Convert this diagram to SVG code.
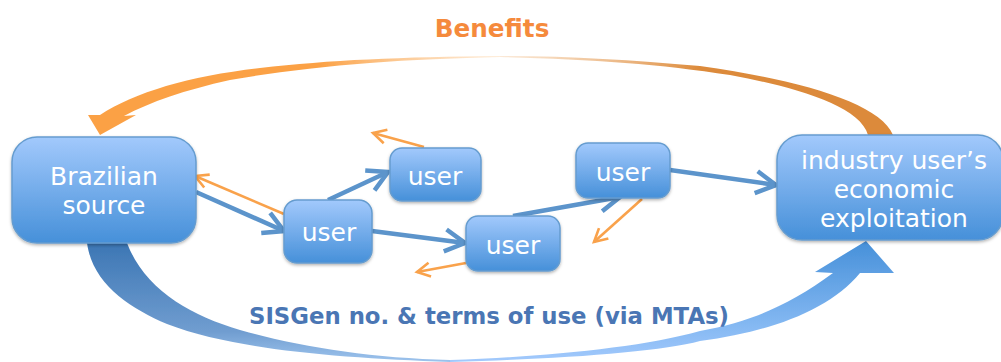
<svg xmlns="http://www.w3.org/2000/svg" width="1001" height="362" viewBox="0 0 1001 362">
<style>
.box{fill:url(#bx);stroke:#659ccf;stroke-width:1.5;filter:url(#sh)}
.lbl{font-family:"DejaVu Sans",sans-serif;font-size:25px;fill:#fff;text-anchor:middle}
.title{font-family:"DejaVu Sans",sans-serif;font-weight:700;text-anchor:middle}
.b{fill:none;stroke:#5b94cb;stroke-width:4.5;marker-end:url(#ab)}
.o{fill:none;stroke:#f9a24c;stroke-width:2.6;marker-end:url(#ao)}
</style>
<defs>
<linearGradient id="bx" x1="0" y1="0" x2="0" y2="1"><stop offset="0" stop-color="#a2c9fc"/><stop offset="1" stop-color="#4690d9"/></linearGradient>
<linearGradient id="tr" gradientUnits="userSpaceOnUse" x1="500" y1="0" x2="700" y2="0"><stop offset="0" stop-color="#f4c79a" stop-opacity=".4"/><stop offset="1" stop-color="#dc8a3a"/></linearGradient>
<linearGradient id="tl" gradientUnits="userSpaceOnUse" x1="500" y1="0" x2="320" y2="0"><stop offset="0" stop-color="#fcd0a0" stop-opacity=".4"/><stop offset="1" stop-color="#fba145"/></linearGradient>
<linearGradient id="bl" gradientUnits="userSpaceOnUse" x1="0" y1="243" x2="0" y2="361"><stop offset="0" stop-color="#3c76b4"/><stop offset=".75" stop-color="#709dd0"/><stop offset="1" stop-color="#9cc2ec"/></linearGradient>
<linearGradient id="br" gradientUnits="userSpaceOnUse" x1="0" y1="241" x2="0" y2="361"><stop offset="0" stop-color="#4690d9"/><stop offset=".7" stop-color="#84b8f2"/><stop offset="1" stop-color="#a2c9fc"/></linearGradient>
<filter id="sh" x="-10%" y="-10%" width="120%" height="125%"><feDropShadow dx="0" dy="1.5" stdDeviation="1.5" flood-color="#000" flood-opacity=".3"/></filter>
<filter id="sf" x="-5%" y="-5%" width="110%" height="110%"><feGaussianBlur stdDeviation=".6"/></filter>
<marker id="ab" markerUnits="userSpaceOnUse" markerWidth="30" markerHeight="30" refX="24" refY="15" orient="auto"><path d="M4 4 L24 15 L4 26" fill="none" stroke="#5b94cb" stroke-width="4.5"/></marker>
<marker id="ao" markerUnits="userSpaceOnUse" markerWidth="24" markerHeight="24" refX="20" refY="12" orient="auto"><path d="M7 5 L20 12 L7 19" fill="none" stroke="#f9a24c" stroke-width="2.6"/></marker>
</defs>
<g id="connectors" filter="url(#sf)">
<path d="M893 135C880 103 800 80 700 66C630 60 570 56 500 56L500 57C590 59 660 64 730 75C790 86 860 105 868 135Z" fill="url(#tr)"/>
<path d="M500 56C400 57 330 60 260 68C190 76 135 92 100 115L88 115L100 135L136 115L124 116C150 102 185 90 230 80C310 66 400 59 500 57Z" fill="url(#tl)"/>
<path d="M87 243C93 285 130 308 167 324C235 350 340 358 450 362L450 360C370 358 300 347 240 330C190 315 145 290 127 243Z" fill="url(#bl)"/>
<path d="M450 362C560 359 660 352 700 341C770 332 830 310 860 273L894 273L866 241L815 272L833 273C790 305 750 322 700 331C640 348 540 357 450 360Z" fill="url(#br)"/>
<path class="b" d="M196 192L284 231"/>
<path class="o" d="M284 214L195 176"/>
<path class="b" d="M328 200L388 172"/>
<path class="b" d="M372 231L465 243"/>
<path class="o" d="M466 263L417 272"/>
<path class="o" d="M424 147L373 133"/>
<path class="b" d="M513 216L620 197"/>
<path class="o" d="M642 199L594 242"/>
<path class="b" d="M670 170L776 185"/>
</g>
<g id="source"><rect class="box" x="12" y="137" width="184" height="106" rx="25"/><text class="lbl" x="104" y="185">Brazilian</text><text class="lbl" x="104" y="214">source</text></g>
<g id="user1"><rect class="box" x="284" y="200" width="88" height="63" rx="13"/><text class="lbl" x="329" y="241">user</text></g>
<g id="user2"><rect class="box" x="390" y="148" width="91" height="53" rx="12"/><text class="lbl" x="435" y="185">user</text></g>
<g id="user3"><rect class="box" x="466" y="216" width="94" height="55" rx="12"/><text class="lbl" x="513" y="254">user</text></g>
<g id="user4"><rect class="box" x="576" y="143" width="94" height="55" rx="12"/><text class="lbl" x="623" y="181">user</text></g>
<g id="industry"><rect class="box" x="777" y="135" width="226" height="105" rx="25"/><text class="lbl" x="894" y="169">industry user’s</text><text class="lbl" x="894" y="198">economic</text><text class="lbl" x="894" y="227">exploitation</text></g>
<text class="title" x="492" y="37" font-size="24.7" fill="#f58a3c">Benefits</text>
<text class="title" x="489" y="324" font-size="22.8" fill="#4a76b4">SISGen no. &amp; terms of use (via MTAs)</text>
</svg>
